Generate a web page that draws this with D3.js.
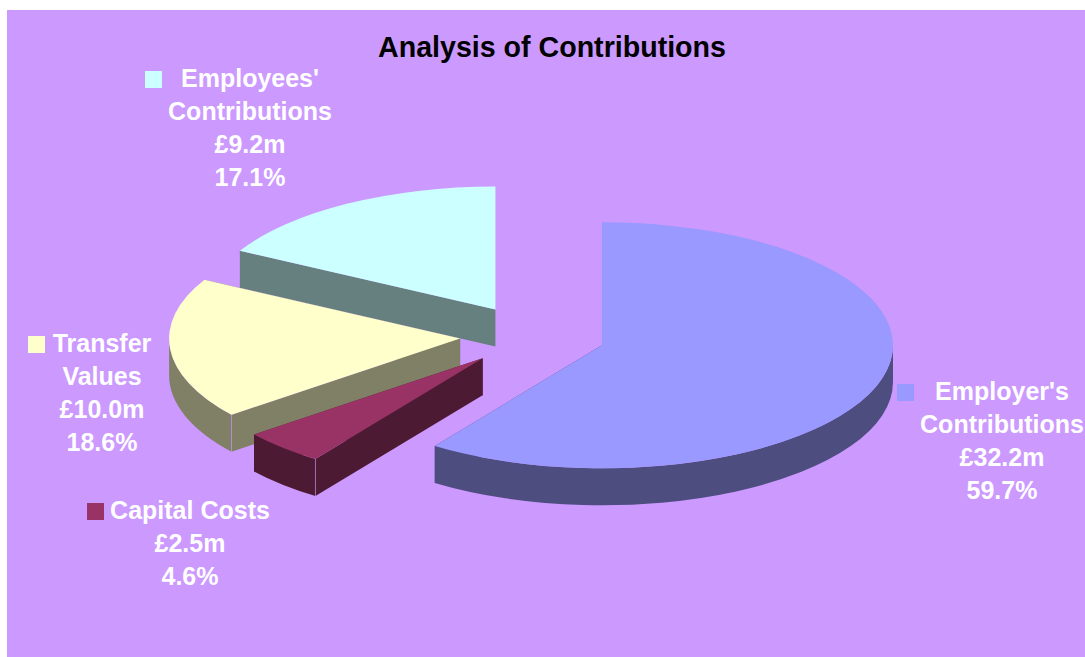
<!DOCTYPE html>
<html>
<head>
<meta charset="utf-8">
<title>Analysis of Contributions</title>
<script src="https://cdn.jsdelivr.net/npm/d3@7/dist/d3.min.js"></script>
<style>
  html, body { margin: 0; padding: 0; background: #fff; overflow: hidden; }
  svg { display: block; }
  text { font-family: "Liberation Sans", Arial, sans-serif; font-weight: 700; }
</style>
</head>
<body>
<svg id="chart" width="1085" height="657"></svg>
<script>
// Contribution figures, in £m, in clockwise order from twelve o'clock
const categories = ["Employer's Contributions", "Capital Costs", "Transfer Values", "Employees' Contributions"];
const amounts = [32.2, 2.5, 10.0, 9.2];
const topColours = ["#9999FF", "#993366", "#FFFFCC", "#CCFFFF"];
const sideColours = ["#4D4D80", "#4D1A33", "#808066", "#668080"];

// Wrapped label lines for each category name
const nameLines = [["Employer's", "Contributions"], ["Capital Costs"], ["Transfer", "Values"], ["Employees'", "Contributions"]];

// Layout of the tilted pie
const W = 1085, H = 657;
const centre = { x: 532.6, y: 336 };
const rx = 291, ry = 123, depth = 37;
const explode = 0.25;

// Label anchors: centre x, first baseline, x of the key square
const labelLayout = [
  { cx: 1002, y: 400, keyX: 897 },
  { cx: 190, y: 519, keyX: 87 },
  { cx: 102, y: 352, keyX: 28 },
  { cx: 250, y: 87, keyX: 145 }
];

const svg = d3.select("#chart");
svg.append("rect").attr("x", 7).attr("y", 10).attr("width", W - 7).attr("height", H - 10).attr("fill", "#CC99FF");

const total = d3.sum(amounts);
const arcs = d3.pie().sort(null).startAngle(0).endAngle(2 * Math.PI)(amounts);
const pct = d3.format(".1f");
const money = d3.format(".1f");

// Rim position for an angle measured clockwise from the top
const rim = (a, o) => [o.x + rx * Math.sin(a), o.y - ry * Math.cos(a)];
const topArc = d3.arc().innerRadius(0).outerRadius(rx);

const slices = arcs.map((d, i) => {
  const mid = (d.startAngle + d.endAngle) / 2;
  return {
    i, d,
    apex: { x: centre.x + explode * rx * Math.sin(mid), y: centre.y - explode * ry * Math.cos(mid) }
  };
});

// Wall between the rim at a0 and a1, dropped by the pie's depth
function rimWall(a0, a1, o) {
  const [x0, y0] = rim(a0, o), [x1, y1] = rim(a1, o);
  const large = a1 - a0 > Math.PI ? 1 : 0;
  return `M${x0},${y0}A${rx},${ry} 0 ${large} 1 ${x1},${y1}L${x1},${y1 + depth}` +
         `A${rx},${ry} 0 ${large} 0 ${x0},${y0 + depth}Z`;
}
function radialWall(a, o) {
  const [x, y] = rim(a, o);
  return `M${o.x},${o.y}L${x},${y}L${x},${y + depth}L${o.x},${o.y + depth}Z`;
}

// Paint from the back of the pie to the front
const paintOrder = [3, 2, 1, 0];
const g = svg.append("g");
paintOrder.forEach(k => {
  const s = slices[k], o = s.apex, a0 = s.d.startAngle, a1 = s.d.endAngle;
  const side = sideColours[k];
  const edge = "rgba(204,153,255,0.55)";
  const sg = g.append("g");
  sg.append("path").attr("d", radialWall(a0, o)).attr("fill", side);
  sg.append("path").attr("d", radialWall(a1, o)).attr("fill", side);
  const lo = Math.max(a0, Math.PI / 2), hi = Math.min(a1, 3 * Math.PI / 2);
  if (hi > lo) sg.append("path").attr("d", rimWall(lo, hi, o)).attr("fill", side);
  sg.append("path")
    .attr("d", topArc({ startAngle: a0, endAngle: a1 }))
    .attr("transform", `translate(${o.x},${o.y}) scale(1,${ry / rx})`)
    .attr("fill", topColours[k]);
  // Fine highlight on the front corner where the radial wall meets the rim wall
  if (k === 1 || k === 2) {
    const [x, y] = rim(a0, o);
    sg.append("line").attr("x1", x).attr("y1", y).attr("x2", x).attr("y2", y + depth)
      .attr("stroke", edge).attr("stroke-width", 1);
  }
});

// Title
svg.append("text").attr("x", 552).attr("y", 57).attr("text-anchor", "middle")
  .attr("font-size", 28.6).attr("fill", "#000").text("Analysis of Contributions");

// Labels with their key squares
const lineGap = 33;
categories.forEach((name, i) => {
  const L = labelLayout[i];
  const lines = nameLines[i].concat([`£${money(amounts[i])}m`, `${pct(amounts[i] / total * 100)}%`]);
  const lg = svg.append("g").attr("fill", "#fff").attr("font-size", 25).attr("text-anchor", "middle");
  lines.forEach((t, j) => {
    lg.append("text").attr("x", L.cx).attr("y", L.y + j * lineGap).text(t);
  });
  svg.append("rect").attr("x", L.keyX).attr("y", L.y - 16).attr("width", 17).attr("height", 17)
    .attr("fill", topColours[i]);
});
</script>
</body>
</html>
